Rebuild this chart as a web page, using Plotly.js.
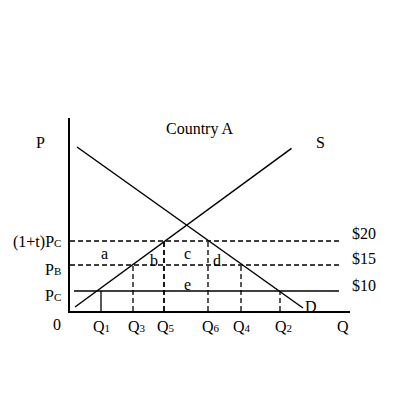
<!DOCTYPE html>
<html>
<head>
<meta charset="utf-8">
<script src="https://cdn.plot.ly/plotly-3.0.1.min.js"></script>
<style>html,body{margin:0;padding:0;background:#fff;}</style>
</head>
<body>
<div id="chart" style="width:400px;height:400px;"></div>
<script>
// Schematic units (quantity to the right, price upward)
const supplyX = [5, 221.5];
const supplyY = [4, 162.7];
const demandX = [7, 233];
const demandY = [164, 3];

const priceValues = [70, 46, 20];              // (1+t)Pc, PB, PC
const priceLabels = ['(1+t)P<span style="font-size:11px">C</span>', 'P<span style="font-size:11px">B</span>', 'P<span style="font-size:11px">C</span>'];
const dollarLabels = ['$20', '$15', '$10'];
const priceLineStart = [0, 0, 4];
const priceLineEnd = [271, 272, 269];
const priceLineDash = ['5px,3px', '5px,3px', 'solid'];

const qLabels = ['Q<span style="font-size:11px">1</span>', 'Q<span style="font-size:11px">3</span>', 'Q<span style="font-size:11px">5</span>', 'Q<span style="font-size:11px">6</span>', 'Q<span style="font-size:11px">4</span>', 'Q<span style="font-size:11px">2</span>'];
const qValues = [31, 63, 94, 138, 171, 210];
const qTops = [20, 46, 70, 70, 46, 20];
const qDash = ['solid', '5px,3px', '5px,3px', '5px,3px', '5px,3px', '5px,3px'];

const areaLabels = ['a', 'b', 'c', 'd', 'e'];
const areaX = [34, 84, 117, 147, 117];
const areaY = [58, 51, 58, 51, 27];

const X_MAX = 280, Y_MAX = 193;
const FONT = 'Liberation Serif, Times New Roman, serif';
const traces = [];
traces.push({x: supplyX, y: supplyY, mode: 'lines', line: {color: '#000', width: 1.5}, hoverinfo: 'skip'});
traces.push({x: demandX, y: demandY, mode: 'lines', line: {color: '#000', width: 1.5}, hoverinfo: 'skip'});
priceValues.forEach((p, i) => {
  traces.push({x: [priceLineStart[i], priceLineEnd[i]], y: [p, p], mode: 'lines',
    line: {color: '#000', width: 1.3, dash: priceLineDash[i]}, hoverinfo: 'skip'});
});
qValues.forEach((q, i) => {
  traces.push({x: [q, q], y: [0, qTops[i]], mode: 'lines',
    line: {color: '#000', width: i === 2 ? 1.8 : 1.3, dash: qDash[i]}, hoverinfo: 'skip'});
});

const ann = [];
// positions given in the same schematic units, converted to paper fractions so labels outside the plot stay visible
const txt = (x, y, text, opts) => Object.assign({x: x / X_MAX, y: y / Y_MAX, xref: 'paper', yref: 'paper', text, showarrow: false,
  font: {family: FONT, size: 16, color: '#000'}, xanchor: 'center', yanchor: 'middle'}, opts || {});
ann.push(txt(129.5, 182, 'Country A'));
ann.push(txt(-30, 169, 'P'));
ann.push(txt(250, 169, 'S'));
ann.push(txt(241, 5, 'D'));
ann.push(txt(-13, -13, '0'));
ann.push(txt(273, -15, 'Q'));
const priceShift = [-1, -4, -4];
priceValues.forEach((p, i) => ann.push(txt(-7, p, priceLabels[i], {xanchor: 'right', yshift: priceShift[i]})));
const dollarShift = [8, 7, 6];
priceValues.forEach((p, i) => ann.push(txt(280, p, dollarLabels[i], {xanchor: 'left', yshift: dollarShift[i]})));
const qShift = [0, 4, 2, 3, 1, 3];
qValues.forEach((q, i) => ann.push(txt(q, -15, qLabels[i], {xshift: qShift[i]})));
areaLabels.forEach((a, i) => ann.push(txt(areaX[i], areaY[i], a)));

const layout = {
  width: 400, height: 400,
  margin: {l: 70, r: 50, t: 118, b: 89},
  paper_bgcolor: '#fff', plot_bgcolor: '#fff',
  showlegend: false,
  xaxis: {range: [0, X_MAX], showline: true, linecolor: '#000', linewidth: 1.5, showgrid: false,
    zeroline: false, showticklabels: false, ticks: '', fixedrange: true},
  yaxis: {range: [0, Y_MAX], showline: true, linecolor: '#000', linewidth: 2, showgrid: false,
    zeroline: false, showticklabels: false, ticks: '', fixedrange: true},
  annotations: ann
};
Plotly.newPlot('chart', traces, layout, {displayModeBar: false, staticPlot: true});
</script>
</body>
</html>
